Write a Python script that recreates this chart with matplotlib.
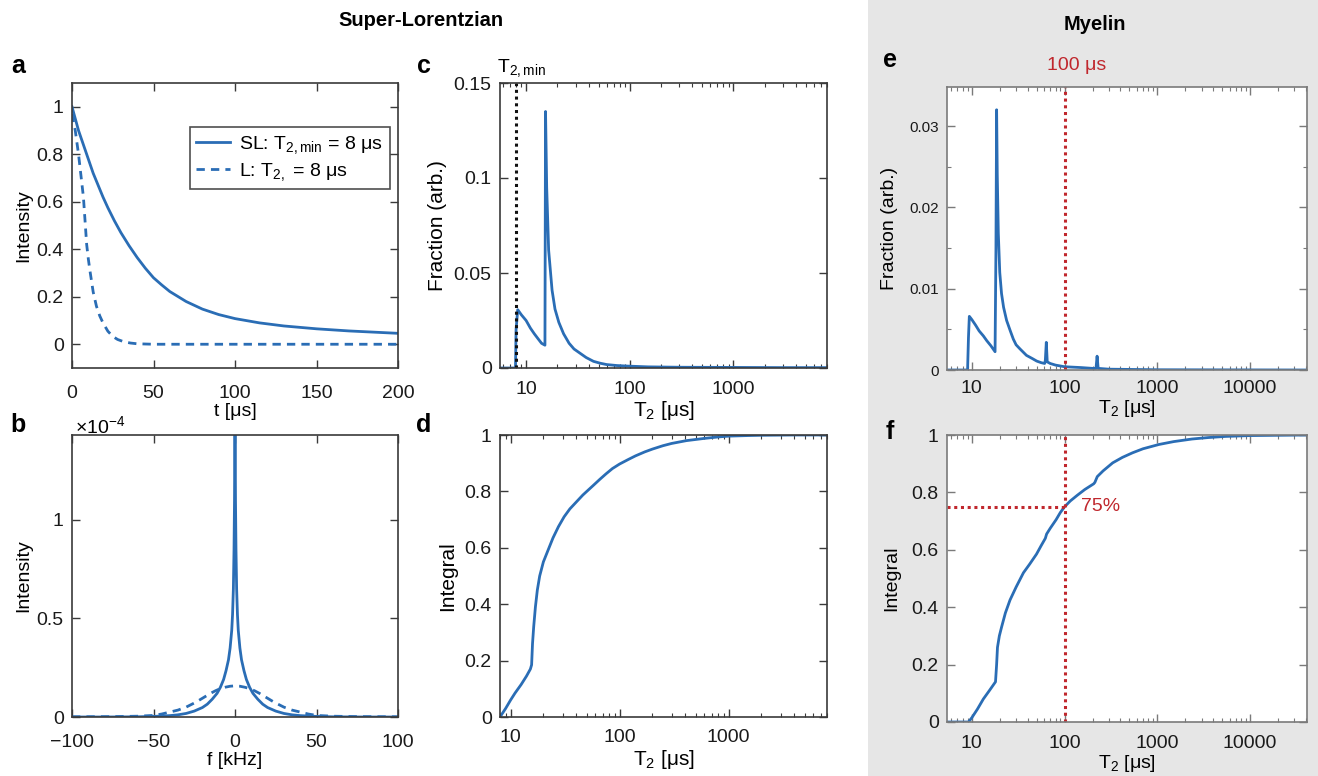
import numpy as np
import matplotlib
matplotlib.use("Agg")
import matplotlib.pyplot as plt
from matplotlib.ticker import FuncFormatter, LogLocator, NullFormatter, MultipleLocator
from matplotlib.patches import Rectangle

plt.rcParams['font.family'] = ['Liberation Sans', 'DejaVu Sans']
plt.rcParams['mathtext.fontset'] = 'custom'
plt.rcParams['mathtext.rm'] = 'Liberation Sans'
plt.rcParams['mathtext.it'] = 'Liberation Sans:italic'
plt.rcParams['mathtext.bf'] = 'Liberation Sans:bold'

BLUE = '#2a6db5'
RED = '#c0272d'

# ---------------- data ----------------
# panel a: time-domain signals
t_sl = [0, 2, 4, 6, 8, 10, 13, 16, 19, 22, 26, 30, 35, 40, 45, 50, 55, 60, 70, 80, 90, 100, 115, 130, 150, 170, 200]
i_sl = [1.0, 0.95, 0.9, 0.86, 0.82, 0.78, 0.72, 0.67, 0.62, 0.575, 0.52, 0.47, 0.415, 0.365, 0.32, 0.28, 0.25,
        0.222, 0.18, 0.148, 0.125, 0.108, 0.09, 0.077, 0.065, 0.056, 0.046]
t_l = [0, 2, 4, 6, 7, 8, 9, 10, 11, 13, 15, 17, 19, 22, 25, 28, 32, 36, 40, 50, 200]
i_l = [0.97, 0.9, 0.8, 0.68, 0.62, 0.52, 0.42, 0.36, 0.31, 0.22, 0.16, 0.12, 0.09, 0.055, 0.033, 0.02, 0.01,
       0.005, 0.002, 0.0, 0.0]

# panel b: spectra (units of 1e-4)
f_sl = [-100, -80, -60, -50, -40, -35, -30, -25, -20, -17, -14, -11, -9, -7, -5.5, -4, -3, -2, -1.5, -1, -0.6, -0.3,
        0, 0.3, 0.6, 1, 1.5, 2, 3, 4, 5.5, 7, 9, 11, 14, 17, 20, 25, 30, 35, 40, 50, 60, 80, 100]
s_sl = [0.0, 0.0, 0.001, 0.003, 0.007, 0.011, 0.018, 0.03, 0.048, 0.065, 0.09, 0.12, 0.15, 0.19, 0.235, 0.29, 0.35,
        0.44, 0.52, 0.65, 0.85, 1.1, 1.6, 1.1, 0.85, 0.65, 0.52, 0.44, 0.35, 0.29, 0.235, 0.19, 0.15, 0.12, 0.09,
        0.065, 0.048, 0.03, 0.018, 0.011, 0.007, 0.003, 0.001, 0.0, 0.0]
f_l = [-100, -75, -60, -50, -45, -40, -35, -30, -24, -19, -15, -12, -9, -6, -3, 0, 3, 6, 9, 12, 15, 19, 24, 30, 35,
       40, 45, 50, 60, 75, 100]
s_l = [0.001, 0.002, 0.004, 0.008, 0.015, 0.025, 0.035, 0.05, 0.075, 0.10, 0.12, 0.133, 0.144, 0.151, 0.156, 0.158,
       0.156, 0.151, 0.144, 0.133, 0.12, 0.10, 0.075, 0.05, 0.035, 0.025, 0.015, 0.008, 0.004, 0.002, 0.001]

# panel c: T2 distribution, super-Lorentzian
t2_c = [5.6, 7.9, 8.0, 8.3, 9, 10, 11, 12, 13, 14.1, 15.2, 15.4, 15.8, 16.5, 17.8, 19, 20.7, 23, 26, 29, 32.7, 38,
        44.7, 52, 60, 75, 96, 150, 300, 1000, 3000, 8000]
fr_c = [0, 0, 0.02, 0.0307, 0.028, 0.025, 0.021, 0.018, 0.0155, 0.013, 0.012, 0.135, 0.095, 0.062, 0.041, 0.031,
        0.024, 0.018, 0.013, 0.01, 0.008, 0.0055, 0.0035, 0.0025, 0.0018, 0.0013, 0.001, 0.0006, 0.0004, 0.0003,
        0.0002, 0.0002]

# panel d: cumulative integral, super-Lorentzian
t2_d = [8, 9, 10, 11, 12.5, 14, 15.2, 15.6, 15.9, 16.3, 16.9, 17.6, 18.5, 20, 22, 24.5, 27.5, 31, 35, 40, 46, 52,
        57.7, 66, 75, 86, 100, 120, 140, 170, 200, 250, 300, 410, 600, 800, 1000, 1500, 2000, 4000, 8000]
in_d = [0, 0.03, 0.06, 0.085, 0.115, 0.145, 0.17, 0.185, 0.26, 0.32, 0.39, 0.45, 0.5, 0.55, 0.59, 0.635, 0.675,
        0.71, 0.738, 0.762, 0.787, 0.806, 0.822, 0.843, 0.862, 0.881, 0.897, 0.913, 0.926, 0.94, 0.95, 0.962, 0.97,
        0.98, 0.988, 0.993, 0.996, 0.998, 0.999, 1.0, 1.0]

# panel e: T2 distribution, myelin
t2_e = [5.4, 9.0, 9.2, 9.4, 10, 11, 12, 13.3, 14.5, 16, 17.8, 18.2, 18.5, 18.8, 19.3, 20, 20.9, 22, 23.7, 26, 28,
        30, 33, 38.8, 45, 50, 56, 61, 62, 63.5, 65, 70, 80, 100, 150, 200, 218, 224, 230, 300, 1000, 40000]
fr_e = [0, 0, 0.004, 0.0066, 0.0062, 0.0055, 0.0048, 0.0042, 0.0036, 0.003, 0.00225, 0.015, 0.032, 0.024, 0.0168,
        0.012, 0.0094, 0.0077, 0.0061, 0.0048, 0.0038, 0.0031, 0.0026, 0.0018, 0.0014, 0.0011, 0.0009, 0.0008,
        0.0012, 0.0034, 0.001, 0.0008, 0.0006, 0.0004, 0.0003, 0.0002, 0.0002, 0.0017, 0.0002, 0.0001, 0.00003, 0.0]

# panel f: cumulative integral, myelin
t2_f = [5.4, 9.2, 10, 11.5, 13.3, 15.5, 18, 18.5, 18.9, 19.8, 20.9, 23, 25.8, 30, 36, 42, 49.8, 56, 62, 64, 70, 81,
        90, 100, 115, 137, 165, 206, 212, 225, 260, 330, 420, 540, 700, 1040, 1500, 2360, 3500, 5400, 10000, 41000]
in_f = [0, 0, 0.015, 0.045, 0.08, 0.11, 0.14, 0.2, 0.26, 0.3, 0.33, 0.38, 0.425, 0.47, 0.52, 0.55, 0.585, 0.615,
        0.64, 0.655, 0.675, 0.705, 0.73, 0.75, 0.77, 0.79, 0.81, 0.83, 0.835, 0.855, 0.875, 0.903, 0.922, 0.938,
        0.952, 0.967, 0.977, 0.986, 0.991, 0.995, 0.998, 1.0]

T2_MIN = 8
T2_CUT = 100
FRAC_CUT = 0.75

# ---------------- figure ----------------
fig = plt.figure(figsize=(13.18, 7.76), dpi=100)
W, H = 1318, 776
fig.patches.append(Rectangle((868 / W, 0), 1 - 868 / W, 1, transform=fig.transFigure,
                             facecolor='#e6e6e6', edgecolor='none', zorder=-5))


def ax_at(x0, y0, x1, y1):
    a = fig.add_axes([x0 / W, 1 - y1 / H, (x1 - x0) / W, (y1 - y0) / H])
    a.set_zorder(2)
    return a


gfmt = FuncFormatter(lambda v, p: ('%g' % v).replace('-', '\u2212'))


def style(ax, spine='#3a3a3a', tsize=14, log=False, xpad=12):
    for s in ax.spines.values():
        s.set_color(spine)
        s.set_linewidth(1.2)
    ax.tick_params(direction='in', top=True, right=True, length=6, width=1.0,
                   color=spine, labelsize=tsize, labelcolor='#1a1a1a', pad=6)
    ax.tick_params(axis='x', pad=xpad)
    ax.tick_params(which='minor', direction='in', top=True, right=True, length=3, width=0.8, color=spine)
    if log:
        ax.set_xscale('log')
        ax.xaxis.set_major_locator(LogLocator(base=10))
        ax.xaxis.set_minor_locator(LogLocator(base=10, subs=np.arange(2, 10)))
        ax.xaxis.set_minor_formatter(NullFormatter())
    ax.xaxis.set_major_formatter(gfmt)
    ax.yaxis.set_major_formatter(gfmt)


DOT = (0, (1, 1.2))

# panel a
ax = ax_at(72, 83, 398, 368)
style(ax, xpad=12)
ax.plot(t_sl, i_sl, color=BLUE, lw=2, label='SL: T$_{2,\\mathrm{min}}$ = 8 μs')
ax.plot(t_l, i_l, color=BLUE, lw=2, ls=(0, (3, 2.2)), label='L: T$_{2,}$ = 8 μs')
ax.set_xlim(0, 200)
ax.set_ylim(-0.1, 1.1)
ax.set_xticks([0, 50, 100, 150, 200])
ax.set_yticks([0, 0.2, 0.4, 0.6, 0.8, 1])
ax.set_xlabel('t [μs]', fontsize=14, labelpad=1)
ax.set_ylabel('Intensity', fontsize=14, labelpad=3)
leg = ax.legend(loc='upper right', bbox_to_anchor=(0.975, 0.845), fontsize=14, frameon=True,
                fancybox=False, edgecolor='#222222', handlelength=1.7, handletextpad=0.5,
                borderpad=0.35, labelspacing=0.25, borderaxespad=0)
leg.get_frame().set_linewidth(1.2)

# panel b
ax = ax_at(72, 435, 398, 717)
style(ax, xpad=12)
ax.plot(f_sl, s_sl, color=BLUE, lw=2)
ax.plot(f_l, s_l, color=BLUE, lw=2, ls=(0, (3, 2.2)))
ax.set_xlim(-100, 100)
ax.set_ylim(0, 1.43)
ax.set_xticks([-100, -50, 0, 50, 100])
ax.set_yticks([0, 0.5, 1])
ax.set_xlabel('f [kHz]', fontsize=14, labelpad=1)
ax.set_ylabel('Intensity', fontsize=14, labelpad=3)
fig.text(75 / W, 1 - 426 / H, '×10$^{-4}$', fontsize=14, ha='left', va='center')

# panel c
ax = ax_at(500, 83, 827, 368)
style(ax, log=True, xpad=9)
ax.plot(t2_c, fr_c, color=BLUE, lw=2)
ax.axvline(T2_MIN, color='#111111', lw=2.2, ls=DOT)
ax.set_xlim(5.6, 8000)
ax.set_ylim(0, 0.15)
ax.set_yticks([0, 0.05, 0.1, 0.15])
ax.set_xlabel('T$_2$ [μs]', fontsize=15, labelpad=1)
ax.set_ylabel('Fraction (arb.)', fontsize=15, labelpad=5)
fig.text(497 / W, 1 - 68 / H, 'T$_{2,\\mathrm{min}}$', fontsize=14, ha='left', va='center')

# panel d
ax = ax_at(500, 435, 827, 717)
style(ax, log=True, xpad=9)
ax.plot(t2_d, in_d, color=BLUE, lw=2)
ax.set_xlim(8, 8000)
ax.set_ylim(0, 1)
ax.set_yticks([0, 0.2, 0.4, 0.6, 0.8, 1])
ax.set_xlabel('T$_2$ [μs]', fontsize=15, labelpad=1)
ax.set_ylabel('Integral', fontsize=15, labelpad=5)

# panel e
ax = ax_at(947, 87, 1307, 370)
style(ax, spine='#7a7a7a', tsize=11, log=True, xpad=7)
ax.tick_params(axis='x', labelsize=14)
ax.plot(t2_e, fr_e, color=BLUE, lw=2)
ax.axvline(T2_CUT, color=RED, lw=2.2, ls=DOT)
ax.set_xlim(5.4, 41000)
ax.set_ylim(0, 0.0348)
ax.set_yticks([0, 0.01, 0.02, 0.03])
ax.yaxis.set_minor_locator(MultipleLocator(0.005))
ax.set_xlabel('T$_2$ [μs]', fontsize=14, labelpad=1)
ax.set_ylabel('Fraction (arb.)', fontsize=14, labelpad=8)
fig.text(1077 / W, 1 - 66 / H, '100 μs', color=RED, fontsize=14, ha='center', va='center')

# panel f
ax = ax_at(947, 435, 1307, 722)
style(ax, spine='#7a7a7a', log=True, xpad=9)
ax.plot(t2_f, in_f, color=BLUE, lw=2)
ax.axvline(T2_CUT, color=RED, lw=2.2, ls=DOT)
ax.plot([5.4, T2_CUT], [FRAC_CUT, FRAC_CUT], color=RED, lw=2.2, ls=DOT)
ax.text(150, FRAC_CUT, '75%', color=RED, fontsize=14, ha='left', va='center')
ax.set_xlim(5.4, 41000)
ax.set_ylim(0, 1)
ax.set_yticks([0, 0.2, 0.4, 0.6, 0.8, 1])
ax.set_xlabel('T$_2$ [μs]', fontsize=14, labelpad=1)
ax.set_ylabel('Integral', fontsize=14, labelpad=8)

# titles and panel letters
fig.text(421 / W, 1 - 20 / H, 'Super-Lorentzian', fontsize=14.5, fontweight='bold', ha='center', va='center')
fig.text(1095 / W, 1 - 24 / H, 'Myelin', fontsize=14.5, fontweight='bold', ha='center', va='center')
for lab, x, y in [('a', 18, 66), ('b', 18, 425), ('c', 424, 66), ('d', 424, 425), ('e', 890, 60), ('f', 890, 432)]:
    fig.text(x / W, 1 - y / H, lab, fontsize=18, fontweight='bold', ha='center', va='center')

fig.savefig('out.png', dpi=100)
